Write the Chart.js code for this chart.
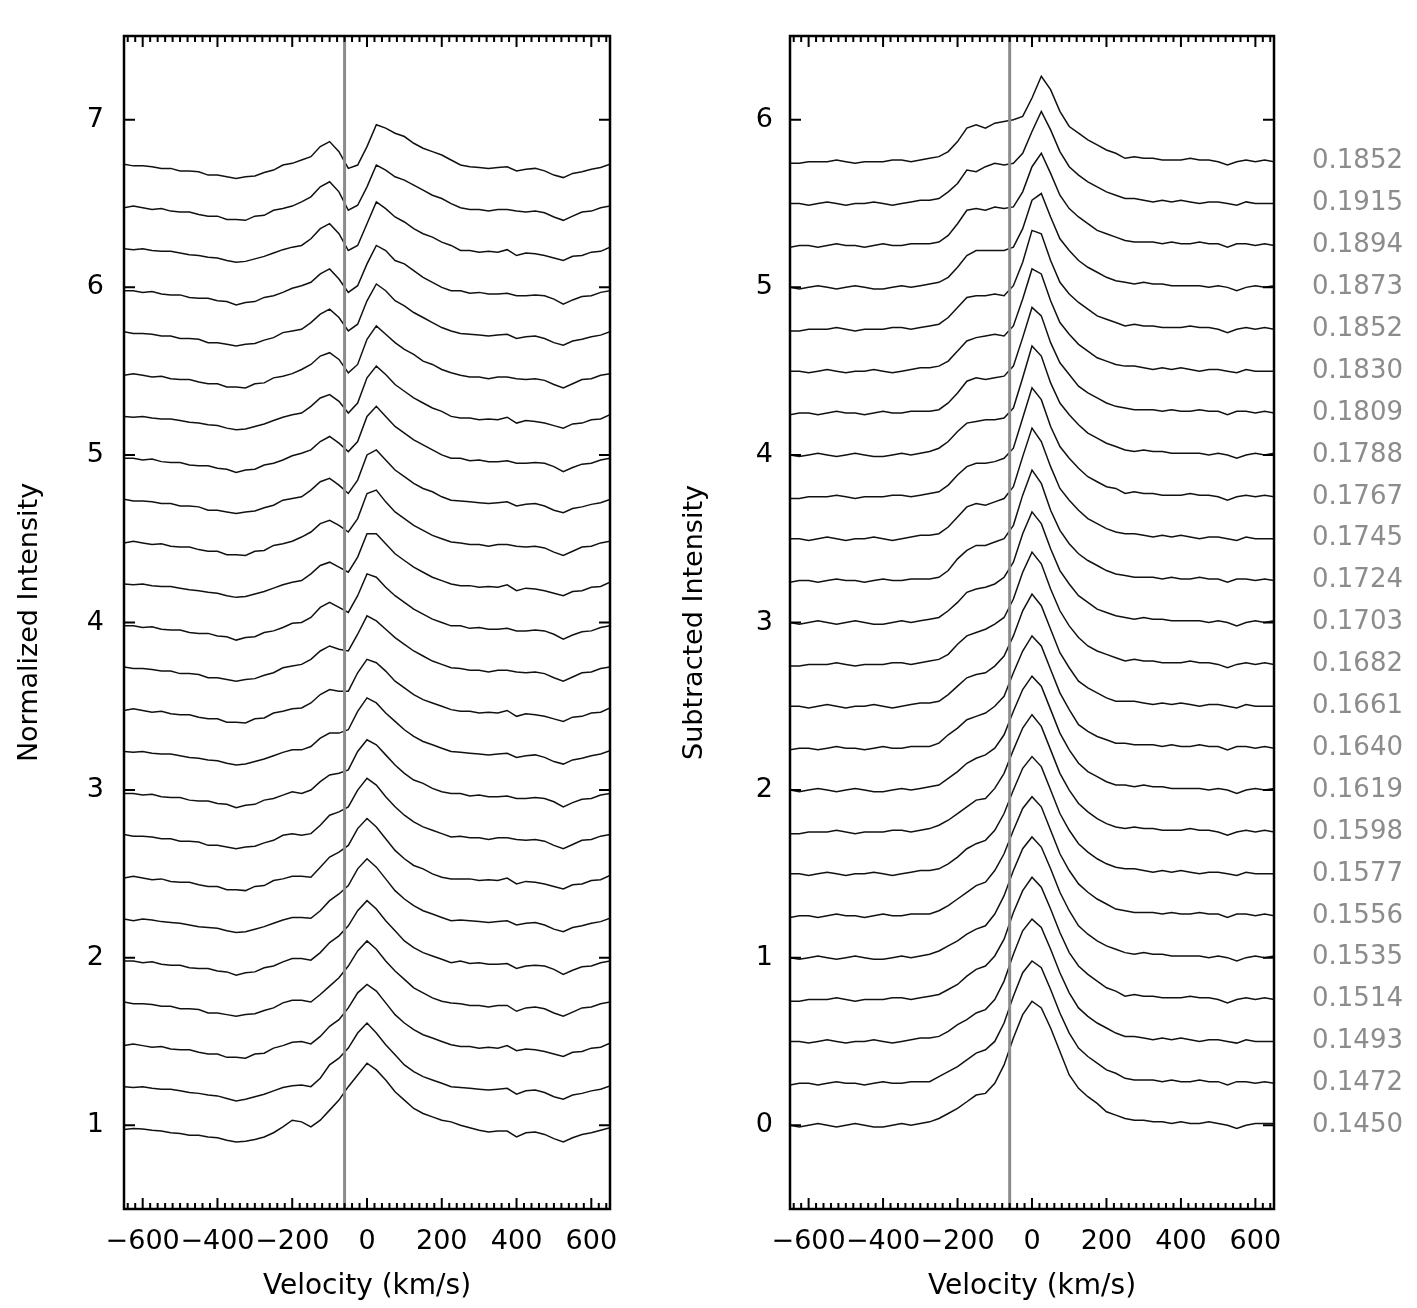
<!DOCTYPE html>
<html>
<head>
<meta charset="utf-8">
<title>Line profiles</title>
<script src="https://cdn.jsdelivr.net/npm/chart.js@4.4.1/dist/chart.umd.min.js"></script>
<style>
  html, body { margin: 0; padding: 0; background: #fff; }
  #page { position: relative; width: 1417px; height: 1308px; }
  #leftPanel { position: absolute; left: 0; top: 0; width: 640px; height: 1308px; }
  #rightPanel { position: absolute; left: 640px; top: 0; width: 777px; height: 1308px; }
</style>
</head>
<body>
<div id="page">
  <canvas id="leftPanel" width="640" height="1308"></canvas>
  <canvas id="rightPanel" width="777" height="1308"></canvas>
</div>
<script>
// Velocity grid (km/s) shared by every spectrum
const velocity = [-650,-625,-600,-575,-550,-525,-500,-475,-450,-425,-400,-375,-350,-325,-300,-275,-250,-225,-200,-175,-150,-125,-100,-75,-50,-25,0,25,50,75,100,125,150,175,200,225,250,275,300,325,350,375,400,425,450,475,500,525,550,575,600,625,650];

// Each spectrum is shifted up by this amount (bottom to top)
const stackOffset = [0,0.25,0.5,0.75,1,1.25,1.5,1.75,2,2.25,2.5,2.75,3,3.25,3.5,3.75,4,4.25,4.5,4.75,5,5.25,5.5,5.75];

// Phase printed beside each subtracted spectrum (bottom to top)
const phaseLabels = ['0.1450','0.1472','0.1493','0.1514','0.1535','0.1556','0.1577','0.1598','0.1619','0.1640','0.1661','0.1682','0.1703','0.1724','0.1745','0.1767','0.1788','0.1809','0.1830','0.1852','0.1873','0.1894','0.1915','0.1852'];

const xMajorTicks = [-600, -400, -200, 0, 200, 400, 600];
const leftYTicks = [1, 2, 3, 4, 5, 6, 7];
const rightYTicks = [0, 1, 2, 3, 4, 5, 6];
const markerVelocity = -60;

// Normalized intensity, bottom spectrum first
const normalized = [
  [0.975,0.98,0.978,0.97,0.965,0.955,0.95,0.94,0.94,0.93,0.925,0.91,0.9,0.905,0.915,0.93,0.955,0.99,1.03, 1.02,0.99,1.03,1.09,1.15,1.23,1.3,1.37,1.33,1.27,1.2,1.15,1.1,1.07,1.05,1.03,1.02, 1.0,0.985,0.97,0.96,0.965,0.965,0.93,0.955,0.96,0.945,0.92,0.9,0.925,0.945,0.955,0.97,0.985],
  [0.98,0.975,0.98,0.97,0.965,0.965,0.955,0.945,0.94,0.93,0.925,0.91,0.895,0.905,0.92,0.935,0.955,0.975,0.985, 0.99,0.98,1.03,1.11,1.15,1.21,1.3,1.36,1.3,1.23,1.17,1.11,1.07,1.04,1.02,1.0,0.98, 0.975,0.97,0.965,0.96,0.965,0.97,0.935,0.955,0.96,0.945,0.92,0.905,0.93,0.94,0.955,0.965,0.985],
  [0.975,0.985,0.975,0.965,0.97,0.955,0.95,0.95,0.935,0.925,0.925,0.905,0.905,0.9,0.925,0.93,0.96,0.975,0.995, 1.0,0.985,1.03,1.09,1.13,1.2,1.29,1.34,1.3,1.23,1.16,1.11,1.07,1.04,1.02,1.0,0.98, 0.97,0.97,0.96,0.965,0.96,0.975,0.945,0.955,0.95,0.94,0.925,0.91,0.935,0.94,0.96,0.965,0.99],
  [0.985,0.975,0.975,0.97,0.96,0.96,0.945,0.945,0.94,0.92,0.92,0.91,0.9,0.91,0.915,0.935,0.95,0.98,0.995, 0.995,0.985,1.03,1.08,1.13,1.2,1.29,1.35,1.3,1.23,1.17,1.12,1.07,1.04,1.01,0.99,0.98, 0.975,0.965,0.965,0.955,0.965,0.965,0.93,0.95,0.955,0.945,0.92,0.9,0.925,0.95,0.955,0.975,0.985],
  [0.98,0.98,0.97,0.975,0.96,0.955,0.955,0.94,0.935,0.935,0.92,0.915,0.895,0.91,0.915,0.94,0.95,0.975,0.995, 0.995,0.985,1.03,1.09,1.13,1.19,1.28,1.34,1.29,1.22,1.16,1.1,1.06,1.03,1.01,0.99,0.97, 0.98,0.965,0.97,0.96,0.96,0.965,0.935,0.95,0.955,0.95,0.93,0.9,0.925,0.945,0.95,0.97,0.98],
  [0.98,0.97,0.98,0.975,0.965,0.96,0.955,0.945,0.935,0.93,0.925,0.91,0.9,0.905,0.92,0.935,0.955,0.975,0.99, 0.99,0.985,1.03,1.09,1.13,1.18,1.28,1.34,1.29,1.22,1.15,1.1,1.06,1.03,1.01,0.99,0.97, 0.975,0.97,0.965,0.96,0.965,0.97,0.945,0.955,0.96,0.945,0.92,0.905,0.93,0.94,0.955,0.965,0.985],
  [0.975,0.985,0.975,0.965,0.97,0.955,0.95,0.95,0.935,0.925,0.925,0.905,0.905,0.9,0.925,0.93,0.96,0.97,0.985, 0.985,0.98,1.04,1.1,1.13,1.17,1.27,1.33,1.28,1.21,1.14,1.09,1.05,1.03,1.0,0.98,0.97, 0.97,0.97,0.96,0.965,0.96,0.975,0.94,0.955,0.95,0.94,0.925,0.91,0.935,0.94,0.96,0.965,0.99],
  [0.985,0.975,0.975,0.97,0.96,0.96,0.945,0.945,0.94,0.92,0.92,0.91,0.9,0.91,0.915,0.935,0.95,0.98,0.99, 0.98,0.99,1.04,1.1,1.12,1.15,1.25,1.32,1.28,1.21,1.15,1.1,1.06,1.03,1.01,0.99,0.97, 0.975,0.965,0.965,0.955,0.965,0.965,0.955,0.95,0.955,0.945,0.92,0.9,0.925,0.95,0.955,0.975,0.985],
  [0.98,0.98,0.97,0.975,0.96,0.955,0.955,0.94,0.935,0.935,0.92,0.915,0.895,0.91,0.915,0.94,0.95,0.97,0.99, 0.98,1.0,1.05,1.09,1.1,1.12,1.23,1.3,1.27,1.21,1.15,1.1,1.06,1.04,1.01,0.99,0.98, 0.98,0.965,0.97,0.96,0.96,0.965,0.95,0.95,0.955,0.95,0.93,0.9,0.925,0.945,0.95,0.97,0.98],
  [0.98,0.975,0.98,0.97,0.965,0.965,0.955,0.945,0.94,0.93,0.925,0.91,0.9,0.905,0.92,0.935,0.955,0.975,0.99, 0.99,1.01,1.06,1.09,1.09,1.11,1.22,1.3,1.27,1.21,1.16,1.11,1.07,1.04,1.02,1.0,0.98, 0.975,0.97,0.965,0.96,0.965,0.97,0.945,0.955,0.96,0.945,0.92,0.905,0.93,0.94,0.955,0.965,0.985],
  [0.975,0.985,0.975,0.965,0.97,0.955,0.95,0.95,0.935,0.925,0.925,0.905,0.905,0.9,0.925,0.93,0.96,0.97,0.985, 0.99,1.02,1.07,1.1,1.09,1.09,1.2,1.28,1.26,1.21,1.15,1.11,1.07,1.04,1.02,1.0,0.98, 0.97,0.97,0.96,0.965,0.96,0.975,0.94,0.955,0.95,0.94,0.925,0.91,0.935,0.94,0.96,0.965,0.99],
  [0.985,0.975,0.975,0.97,0.96,0.96,0.945,0.945,0.94,0.92,0.92,0.91,0.9,0.91,0.915,0.935,0.95,0.98,0.99, 1.0,1.03,1.08,1.11,1.09,1.08,1.18,1.29,1.26,1.21,1.16,1.12,1.08,1.05,1.02,1.0,0.98, 0.975,0.965,0.965,0.955,0.965,0.965,0.955,0.95,0.955,0.945,0.92,0.9,0.925,0.95,0.955,0.975,0.985],
  [0.98,0.98,0.97,0.975,0.96,0.955,0.955,0.94,0.935,0.935,0.92,0.915,0.895,0.91,0.915,0.94,0.95,0.97,0.995, 1.0,1.03,1.09,1.12,1.09,1.06,1.16,1.29,1.27,1.21,1.16,1.12,1.08,1.05,1.02,1.0,0.98, 0.98,0.965,0.97,0.96,0.96,0.965,0.95,0.95,0.955,0.95,0.93,0.9,0.925,0.945,0.95,0.97,0.98],
  [0.98,0.975,0.98,0.97,0.965,0.965,0.955,0.945,0.94,0.93,0.925,0.91,0.9,0.905,0.92,0.935,0.955,0.975,0.99, 1.0,1.04,1.09,1.11,1.08,1.05,1.14,1.28,1.28,1.22,1.16,1.12,1.08,1.05,1.02,1.0,0.98, 0.97,0.97,0.96,0.965,0.96,0.975,0.94,0.955,0.95,0.94,0.925,0.91,0.935,0.94,0.96,0.965,0.99],
  [0.975,0.985,0.975,0.965,0.97,0.955,0.95,0.95,0.935,0.925,0.925,0.905,0.905,0.9,0.925,0.93,0.96,0.97,0.985, 1.01,1.04,1.09,1.11,1.08,1.04,1.12,1.27,1.29,1.22,1.16,1.12,1.08,1.05,1.02,1.0,0.98, 0.975,0.965,0.965,0.955,0.965,0.965,0.955,0.95,0.955,0.945,0.92,0.9,0.925,0.95,0.955,0.975,0.985],
  [0.985,0.975,0.975,0.97,0.96,0.96,0.945,0.945,0.94,0.92,0.92,0.91,0.9,0.91,0.915,0.935,0.95,0.98,0.99, 1.0,1.04,1.09,1.11,1.07,1.02,1.1,1.25,1.28,1.22,1.16,1.12,1.08,1.05,1.03,1.0,0.98, 0.975,0.97,0.965,0.96,0.965,0.97,0.945,0.955,0.96,0.945,0.92,0.905,0.93,0.94,0.955,0.965,0.985],
  [0.98,0.98,0.97,0.975,0.96,0.955,0.955,0.94,0.935,0.935,0.92,0.915,0.895,0.91,0.915,0.94,0.95,0.97,0.995, 1.01,1.03,1.08,1.11,1.07,1.02,1.08,1.23,1.29,1.23,1.17,1.13,1.09,1.06,1.03,1.0,0.98, 0.98,0.965,0.97,0.96,0.96,0.965,0.95,0.95,0.955,0.95,0.93,0.9,0.925,0.945,0.95,0.97,0.98],
  [0.98,0.975,0.98,0.97,0.965,0.965,0.955,0.945,0.94,0.93,0.925,0.91,0.9,0.905,0.92,0.935,0.955,0.975,0.99, 1.0,1.04,1.09,1.11,1.07,1.0,1.06,1.21,1.28,1.23,1.17,1.13,1.09,1.06,1.03,1.01,0.98, 0.97,0.97,0.96,0.965,0.96,0.975,0.94,0.955,0.95,0.94,0.925,0.91,0.935,0.94,0.96,0.965,0.99],
  [0.975,0.985,0.975,0.965,0.97,0.955,0.95,0.95,0.935,0.925,0.925,0.905,0.905,0.9,0.925,0.93,0.96,0.97,0.985, 1.01,1.04,1.09,1.11,1.07,0.99,1.04,1.19,1.27,1.22,1.17,1.13,1.1,1.06,1.04,1.01,0.99, 0.975,0.965,0.965,0.955,0.965,0.965,0.955,0.95,0.955,0.945,0.92,0.9,0.925,0.95,0.955,0.975,0.985],
  [0.985,0.975,0.975,0.97,0.96,0.96,0.945,0.945,0.94,0.92,0.92,0.91,0.9,0.91,0.915,0.935,0.95,0.98,0.99, 1.0,1.04,1.09,1.12,1.07,0.99,1.03,1.17,1.27,1.23,1.17,1.14,1.1,1.07,1.04,1.01,0.99, 0.975,0.97,0.965,0.96,0.965,0.97,0.945,0.955,0.96,0.945,0.92,0.905,0.93,0.94,0.955,0.965,0.985],
  [0.98,0.98,0.97,0.975,0.96,0.955,0.955,0.94,0.935,0.935,0.92,0.915,0.895,0.91,0.915,0.94,0.95,0.97,0.995, 1.01,1.03,1.08,1.11,1.05,0.97,1.01,1.14,1.25,1.22,1.16,1.14,1.1,1.06,1.03,1.0,0.98, 0.98,0.965,0.97,0.96,0.96,0.965,0.95,0.95,0.955,0.95,0.93,0.9,0.925,0.945,0.95,0.97,0.98],
  [0.98,0.975,0.98,0.97,0.965,0.965,0.955,0.945,0.94,0.93,0.925,0.91,0.9,0.905,0.92,0.935,0.955,0.975,0.99, 1.0,1.04,1.1,1.13,1.07,0.97,1.0,1.13,1.26,1.22,1.17,1.14,1.1,1.07,1.05,1.02,1.0, 0.97,0.97,0.96,0.965,0.96,0.975,0.94,0.955,0.95,0.94,0.925,0.91,0.935,0.94,0.96,0.965,0.99],
  [0.975,0.985,0.975,0.965,0.97,0.955,0.95,0.95,0.935,0.925,0.925,0.905,0.905,0.9,0.925,0.93,0.96,0.97,0.985, 1.01,1.04,1.1,1.13,1.07,0.96,0.99,1.1,1.23,1.2,1.16,1.14,1.11,1.08,1.05,1.03,1.0, 0.975,0.965,0.965,0.955,0.965,0.965,0.955,0.95,0.955,0.945,0.92,0.9,0.925,0.95,0.955,0.975,0.985],
  [0.985,0.975,0.975,0.97,0.96,0.96,0.945,0.945,0.94,0.92,0.92,0.91,0.9,0.91,0.915,0.935,0.95,0.98,0.99, 1.01,1.03,1.09,1.12,1.06,0.96,0.98,1.09,1.22,1.2,1.17,1.15,1.11,1.08,1.06,1.04,1.01, 0.98,0.97,0.965,0.96,0.965,0.97,0.945,0.955,0.96,0.945,0.92,0.905,0.93,0.94,0.955,0.965,0.985]
];

// Subtracted intensity, bottom spectrum first
const subtracted = [
  [0,-0.01,0,0.01,0,-0.01,0,0.01,0,-0.01,-0.01,0,0.01,0,0.01,0.02, 0.04,0.07,0.1,0.14,0.18,0.19,0.25,0.36,0.52,0.66,0.74,0.7,0.58,0.44,0.3,0.22,0.17,0.13,0.08,0.06, 0.04,0.03,0.03,0.02,0.02,0.01,0.02,0.01,0.01,0.02,0.01,0,-0.02,0,0.01,0.01,0.01],
  [-0.01,0,0,-0.01,0,0.01,0,0,-0.01,0,0.01,0,0,0.01,0.01,0.01, 0.04,0.07,0.1,0.14,0.18,0.2,0.25,0.36,0.52,0.66,0.73,0.69,0.56,0.42,0.3,0.21,0.16,0.12,0.08,0.06, 0.03,0.02,0.02,0.02,0.01,0.02,0.01,0.01,0.02,0.01,0.01,-0.01,0.01,0.01,0,0.01,0],
  [0,0,-0.01,0,0.01,0,-0.01,0,0,0.01,0,-0.01,0,0.01,0.02,0.02, 0.03,0.06,0.1,0.13,0.17,0.19,0.25,0.36,0.52,0.66,0.73,0.68,0.55,0.41,0.29,0.2,0.15,0.11,0.08,0.05, 0.03,0.03,0.02,0.01,0.02,0.01,0.02,0.01,0,0.01,0.01,0,-0.01,0.01,0,0,0],
  [-0.01,-0.01,0,0,0,0.01,0,-0.01,0,0,0,0.01,0.01,0,0.01,0.02, 0.03,0.06,0.09,0.14,0.18,0.2,0.26,0.36,0.52,0.65,0.73,0.67,0.54,0.4,0.28,0.2,0.15,0.11,0.07,0.05, 0.02,0.03,0.02,0.02,0.01,0.01,0.01,0.02,0.01,0.01,0,-0.02,0,0.01,0,0.01,0],
  [0,-0.01,0,0.01,0,-0.01,0,0.01,0,-0.01,-0.01,0,0.01,0,0.01,0.02, 0.04,0.07,0.1,0.14,0.17,0.19,0.26,0.37,0.52,0.65,0.72,0.66,0.53,0.39,0.28,0.19,0.14,0.1,0.07,0.05, 0.03,0.02,0.03,0.02,0.02,0.01,0.01,0.01,0.01,0,0.01,0,-0.02,0,0.01,0,0.01],
  [-0.01,0,0,-0.01,0,0.01,0,0,-0.01,0,0.01,0,0,0.01,0.01,0.01, 0.03,0.06,0.1,0.14,0.18,0.2,0.27,0.37,0.51,0.64,0.71,0.65,0.51,0.37,0.27,0.19,0.14,0.1,0.07,0.04, 0.03,0.02,0.02,0.02,0.01,0.02,0.01,0.01,0.02,0.01,0.01,-0.01,0.01,0.01,0,0.01,0],
  [0,0,-0.01,0,0.01,0,-0.01,0,0,0.01,0,-0.01,0,0.01,0.02,0.02, 0.03,0.06,0.1,0.15,0.18,0.2,0.26,0.36,0.5,0.63,0.7,0.64,0.5,0.36,0.26,0.18,0.13,0.09,0.06,0.04, 0.03,0.03,0.02,0.01,0.02,0.01,0.02,0.01,0,0.01,0.01,0,-0.01,0.01,0,0,0],
  [-0.01,-0.01,0,0,0,0.01,0,-0.01,0,0,0,0.01,0.01,0,0.01,0.02, 0.04,0.07,0.11,0.15,0.19,0.2,0.26,0.35,0.49,0.62,0.7,0.63,0.49,0.35,0.25,0.17,0.12,0.08,0.05,0.03, 0.02,0.03,0.02,0.02,0.01,0.01,0.01,0.02,0.01,0.01,0,-0.02,0,0.01,0,0.01,0],
  [0,-0.01,0,0.01,0,-0.01,0,0.01,0,-0.01,-0.01,0,0.01,0,0.01,0.02, 0.03,0.07,0.11,0.16,0.19,0.21,0.25,0.33,0.47,0.6,0.68,0.62,0.48,0.34,0.24,0.16,0.11,0.08,0.05,0.03, 0.03,0.02,0.03,0.02,0.02,0.01,0.01,0.01,0.01,0,0.01,0,-0.02,0,0.01,0,0.01],
  [-0.01,0,0,-0.01,0,0.01,0,0,-0.01,0,0.01,0,0,0.01,0.01,0.01, 0.03,0.08,0.12,0.17,0.19,0.21,0.25,0.31,0.45,0.58,0.67,0.61,0.47,0.33,0.23,0.14,0.1,0.07,0.05,0.03, 0.03,0.02,0.02,0.02,0.01,0.02,0.01,0.01,0.02,0.01,0.01,-0.01,0.01,0.01,0,0.01,0],
  [0,0,-0.01,0,0.01,0,-0.01,0,0,0.01,0,-0.01,0,0.01,0.02,0.02, 0.03,0.07,0.12,0.17,0.19,0.2,0.24,0.3,0.42,0.57,0.67,0.6,0.46,0.32,0.23,0.15,0.11,0.08,0.05,0.03, 0.03,0.03,0.02,0.01,0.02,0.01,0.02,0.01,0,0.01,0.01,0,-0.01,0.01,0,0,0],
  [-0.01,-0.01,0,0,0,0.01,0,-0.01,0,0,0,0.01,0.01,0,0.01,0.02, 0.03,0.06,0.12,0.17,0.19,0.21,0.24,0.28,0.39,0.55,0.67,0.6,0.45,0.32,0.23,0.16,0.11,0.08,0.06,0.04, 0.02,0.03,0.02,0.02,0.01,0.01,0.01,0.02,0.01,0.01,0,-0.02,0,0.01,0,0.01,0],
  [0,-0.01,0,0.01,0,-0.01,0,0.01,0,-0.01,-0.01,0,0.01,0,0.01,0.02, 0.03,0.07,0.12,0.18,0.2,0.21,0.23,0.27,0.36,0.53,0.66,0.59,0.44,0.31,0.23,0.16,0.12,0.08,0.06,0.04, 0.03,0.02,0.03,0.02,0.02,0.01,0.01,0.01,0.01,0,0.01,0,-0.02,0,0.01,0,0.01],
  [-0.01,0,0,-0.01,0,0.01,0,0,-0.01,0,0.01,0,0,0.01,0.01,0.01, 0.02,0.06,0.13,0.18,0.21,0.21,0.23,0.25,0.33,0.51,0.66,0.58,0.42,0.3,0.22,0.16,0.12,0.09,0.06,0.04, 0.03,0.02,0.02,0.02,0.01,0.02,0.01,0.01,0.02,0.01,0.01,-0.01,0.01,0.01,0,0.01,0],
  [0,0,-0.01,0,0.01,0,-0.01,0,0,0.01,0,-0.01,0,0.01,0.02,0.02, 0.03,0.07,0.13,0.19,0.21,0.2,0.22,0.24,0.31,0.49,0.66,0.58,0.43,0.3,0.23,0.17,0.12,0.09,0.06,0.04, 0.03,0.03,0.02,0.01,0.02,0.01,0.02,0.01,0,0.01,0.01,0,-0.01,0.01,0,0,0],
  [-0.01,-0.01,0,0,0,0.01,0,-0.01,0,0,0,0.01,0.01,0,0.01,0.02, 0.03,0.07,0.13,0.18,0.2,0.2,0.21,0.23,0.29,0.47,0.65,0.58,0.42,0.3,0.23,0.17,0.12,0.09,0.06,0.05, 0.02,0.03,0.02,0.02,0.01,0.01,0.01,0.02,0.01,0.01,0,-0.02,0,0.01,0,0.01,0],
  [0,-0.01,0,0.01,0,-0.01,0,0.01,0,-0.01,-0.01,0,0.01,0,0.01,0.02, 0.04,0.08,0.14,0.19,0.2,0.21,0.21,0.22,0.28,0.46,0.65,0.59,0.43,0.31,0.24,0.18,0.13,0.1,0.07,0.05, 0.03,0.02,0.03,0.02,0.02,0.01,0.01,0.01,0.01,0,0.01,0,-0.02,0,0.01,0,0.01],
  [-0.01,0,0,-0.01,0,0.01,0,0,-0.01,0,0.01,0,0,0.01,0.01,0.01, 0.02,0.06,0.12,0.19,0.21,0.2,0.21,0.22,0.28,0.45,0.63,0.58,0.42,0.3,0.23,0.16,0.12,0.09,0.06,0.04, 0.03,0.02,0.02,0.02,0.01,0.02,0.01,0.01,0.02,0.01,0.01,-0.01,0.01,0.01,0,0.01,0],
  [0,0,-0.01,0,0.01,0,-0.01,0,0,0.01,0,-0.01,0,0.01,0.02,0.02, 0.03,0.06,0.12,0.18,0.2,0.21,0.22,0.21,0.27,0.43,0.61,0.58,0.42,0.29,0.22,0.16,0.12,0.08,0.06,0.04, 0.03,0.03,0.02,0.01,0.02,0.01,0.02,0.01,0,0.01,0.01,0,-0.01,0.01,0,0,0],
  [-0.01,-0.01,0,0,0,0.01,0,-0.01,0,0,0,0.01,0.01,0,0.01,0.02, 0.03,0.07,0.13,0.19,0.2,0.2,0.21,0.2,0.26,0.4,0.59,0.57,0.41,0.28,0.21,0.16,0.12,0.08,0.06,0.04, 0.02,0.03,0.02,0.02,0.01,0.01,0.01,0.02,0.01,0.01,0,-0.02,0,0.01,0,0.01,0],
  [0,-0.01,0,0.01,0,-0.01,0,0.01,0,-0.01,-0.01,0,0.01,0,0.01,0.02, 0.03,0.06,0.12,0.19,0.22,0.22,0.22,0.22,0.24,0.35,0.52,0.56,0.42,0.29,0.22,0.16,0.12,0.09,0.06,0.04, 0.03,0.02,0.03,0.02,0.02,0.01,0.01,0.01,0.01,0,0.01,0,-0.02,0,0.01,0,0.01],
  [-0.01,0,0,-0.01,0,0.01,0,0,-0.01,0,0.01,0,0,0.01,0.01,0.01, 0.02,0.06,0.13,0.21,0.22,0.21,0.23,0.22,0.23,0.32,0.47,0.55,0.43,0.3,0.22,0.17,0.13,0.09,0.07,0.05, 0.03,0.02,0.02,0.02,0.01,0.02,0.01,0.01,0.02,0.01,0.01,-0.01,0.01,0.01,0,0.01,0],
  [0,0,-0.01,0,0.01,0,-0.01,0,0,0.01,0,-0.01,0,0.01,0.02,0.02, 0.03,0.07,0.12,0.2,0.19,0.22,0.24,0.23,0.24,0.3,0.43,0.55,0.44,0.31,0.22,0.17,0.13,0.1,0.07,0.05, 0.03,0.03,0.02,0.01,0.02,0.01,0.02,0.01,0,0.01,0.01,0,-0.01,0.01,0,0,0],
  [-0.01,-0.01,0,0,0,0.01,0,-0.01,0,0,0,0.01,0.01,0,0.01,0.02, 0.03,0.06,0.12,0.2,0.22,0.2,0.23,0.24,0.25,0.27,0.38,0.51,0.43,0.3,0.21,0.17,0.13,0.1,0.07,0.05, 0.02,0.03,0.02,0.02,0.01,0.01,0.01,0.02,0.01,0.01,0,-0.02,0,0.01,0,0.01,0]
];

Chart.defaults.font.family = "'DejaVu Sans', sans-serif";
Chart.defaults.color = '#000';

function formatVelocity(v) {
  return v < 0 ? '\u2212' + Math.abs(v) : String(v);
}

// Box around the plot area, inward ticks on all four sides
const frameTicks = {
  id: 'frameTicks',
  afterDraw(chart) {
    const { ctx, chartArea: a } = chart;
    const x = chart.scales.x;
    const y = chart.scales.y;
    ctx.save();
    ctx.strokeStyle = '#000';
    ctx.lineWidth = 2;
    ctx.beginPath();
    for (let v = -640; v <= 640; v += 20) {
      const px = x.getPixelForValue(v);
      const len = xMajorTicks.includes(v) ? 11 : 6;
      ctx.moveTo(px, a.bottom);
      ctx.lineTo(px, a.bottom - len);
      ctx.moveTo(px, a.top);
      ctx.lineTo(px, a.top + len);
    }
    y.ticks.forEach(t => {
      const py = y.getPixelForValue(t.value);
      ctx.moveTo(a.left, py);
      ctx.lineTo(a.left + 11, py);
      ctx.moveTo(a.right, py);
      ctx.lineTo(a.right - 11, py);
    });
    ctx.stroke();
    ctx.lineWidth = 2.5;
    ctx.strokeRect(a.left, a.top, a.right - a.left, a.bottom - a.top);
    ctx.restore();
  }
};

// fixed axis boxes so both plot areas land where the figure has them
function fixBox(size, key) {
  return s => {
    s[key] = size;
    s.paddingTop = 0;
    s.paddingBottom = 0;
    s.paddingLeft = 0;
    s.paddingRight = 0;
  };
}

function makePanel(canvasId, spectra, cfg) {
  const datasets = [{
    data: [{ x: markerVelocity, y: cfg.min }, { x: markerVelocity, y: cfg.max }],
    borderColor: '#8c8c8c',
    borderWidth: 3,
    pointRadius: 0
  }];
  spectra.forEach((row, k) => {
    datasets.push({
      data: row.map((val, i) => ({ x: velocity[i], y: val + stackOffset[k] })),
      borderColor: '#111',
      borderWidth: 1.5,
      pointRadius: 0,
      tension: 0,
      fill: false
    });
  });

  return new Chart(document.getElementById(canvasId), {
    type: 'line',
    data: { datasets },
    options: {
      responsive: false,
      animation: false,
      devicePixelRatio: 1,
      layout: { padding: { top: 36, left: 0, right: 0, bottom: 0 } },
      plugins: { legend: { display: false }, tooltip: { enabled: false } },
      scales: {
        x: {
          type: 'linear',
          min: -650,
          max: 650,
          afterBuildTicks: s => { s.ticks = xMajorTicks.map(v => ({ value: v })); },
          afterFit: fixBox(99, 'height'),
          grid: { display: false, drawTicks: false },
          border: { display: false },
          ticks: {
            autoSkip: false, maxRotation: 0, minRotation: 0, padding: 17,
            font: { size: 27 },
            callback: v => formatVelocity(v)
          },
          title: {
            display: true, text: 'Velocity (km/s)',
            font: { size: 28 }, padding: { top: 0, bottom: 4 }
          }
        },
        y: {
          type: 'linear',
          position: 'left',
          min: cfg.min,
          max: cfg.max,
          afterBuildTicks: s => { s.ticks = cfg.yTicks.map(v => ({ value: v })); },
          afterFit: fixBox(cfg.leftWidth, 'width'),
          grid: { display: false, drawTicks: false },
          border: { display: false },
          ticks: { padding: cfg.tickPad, font: { size: 27 } },
          title: {
            display: true, text: cfg.title,
            font: { size: 27 }, padding: { top: cfg.titlePad, bottom: 0 }
          }
        },
        y2: {
          type: 'linear',
          position: 'right',
          min: cfg.min,
          max: cfg.max,
          afterBuildTicks: s => { s.ticks = stackOffset.map(v => ({ value: v })); },
          afterFit: fixBox(cfg.rightWidth, 'width'),
          grid: { display: false, drawTicks: false },
          border: { display: false },
          ticks: {
            display: cfg.showPhases,
            autoSkip: false,
            padding: 38,
            color: '#8c8c8c',
            font: { size: 26 },
            callback: (v, i) => phaseLabels[i]
          }
        }
      }
    },
    plugins: [frameTicks]
  });
}

makePanel('leftPanel', normalized, {
  min: 0.5, max: 7.5, yTicks: leftYTicks,
  title: 'Normalized Intensity',
  leftWidth: 124, rightWidth: 30, tickPad: 20, titlePad: 14,
  showPhases: false
});

makePanel('rightPanel', subtracted, {
  min: -0.5, max: 6.5, yTicks: rightYTicks,
  title: 'Subtracted Intensity',
  leftWidth: 150, rightWidth: 143, tickPad: 17, titlePad: 39,
  showPhases: true
});
</script>
</body>
</html>
